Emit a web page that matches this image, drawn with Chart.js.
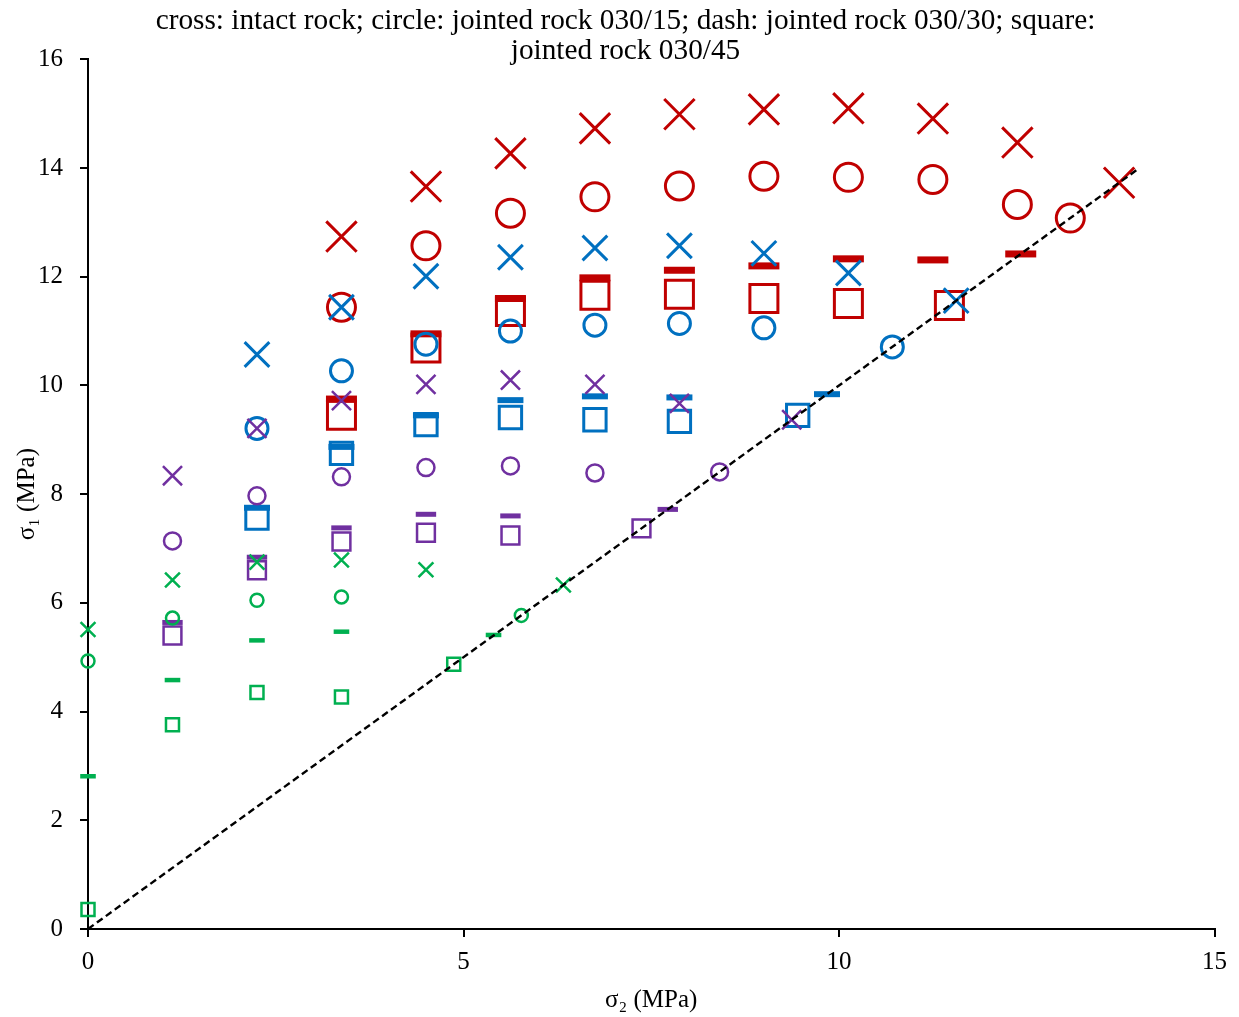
<!DOCTYPE html>
<html>
<head>
<meta charset="utf-8">
<script src="https://cdn.jsdelivr.net/npm/chart.js@4/dist/chart.umd.min.js"></script>
<style>
  html, body { margin: 0; padding: 0; background: #fff; }
  #wrap { width: 1239px; height: 1017px; position: relative; }
</style>
</head>
<body>
<div id="wrap"><canvas id="c"></canvas></div>
<script>
// ---- Data (sigma2, sigma1 in MPa) ----
const titleLines = ['cross: intact rock; circle: jointed rock 030/15; dash: jointed rock 030/30; square:', 'jointed rock 030/45'];
const xTitle = 'σ₂ (MPa)';
const yTitle = 'σ₁ (MPa)';

// Green group
const greenCrossX  = [0, 1.125, 2.25, 3.375, 4.5, 6.33];
const greenCrossY  = [5.51, 6.42, 6.75, 6.79, 6.61, 6.33];
const greenCircleX = [0, 1.125, 2.25, 3.375, 5.77];
const greenCircleY = [4.93, 5.72, 6.05, 6.11, 5.77];
const greenDashX   = [0, 1.125, 2.25, 3.375, 5.40];
const greenDashY   = [2.81, 4.58, 5.31, 5.47, 5.41];
const greenSquareX = [0, 1.125, 2.25, 3.375, 4.87];
const greenSquareY = [0.36, 3.76, 4.35, 4.27, 4.87];

// Purple group
const purpleCrossX  = [1.125, 2.25, 3.375, 4.5, 5.625, 6.75, 7.875, 9.37];
const purpleCrossY  = [8.34, 9.21, 9.72, 10.02, 10.10, 10.02, 9.67, 9.37];
const purpleCircleX = [1.125, 2.25, 3.375, 4.5, 5.625, 6.75, 8.41];
const purpleCircleY = [7.14, 7.97, 8.32, 8.49, 8.52, 8.39, 8.41];
const purpleDashX   = [1.125, 2.25, 3.375, 4.5, 5.625, 7.72];
const purpleDashY   = [5.64, 6.84, 7.38, 7.63, 7.60, 7.72];
const purpleSquareX = [1.125, 2.25, 3.375, 4.5, 5.625, 7.37];
const purpleSquareY = [5.40, 6.60, 7.13, 7.29, 7.24, 7.37];

// Blue group
const blueCrossX  = [2.25, 3.375, 4.5, 5.625, 6.75, 7.875, 9, 10.125, 11.56];
const blueCrossY  = [10.57, 11.44, 12.01, 12.36, 12.53, 12.57, 12.43, 12.07, 11.56];
const blueCircleX = [2.25, 3.375, 4.5, 5.625, 6.75, 7.875, 9, 10.71];
const blueCircleY = [9.21, 10.27, 10.76, 11.00, 11.11, 11.14, 11.06, 10.71];
const blueDashX   = [2.25, 3.375, 4.5, 5.625, 6.75, 7.875, 9.84];
const blueDashY   = [7.75, 8.87, 9.45, 9.73, 9.80, 9.78, 9.84];
const blueSquareX = [2.25, 3.375, 4.5, 5.625, 6.75, 7.875, 9.45];
const blueSquareY = [7.56, 8.75, 9.28, 9.41, 9.37, 9.34, 9.45];

// Red group
const redCrossX  = [3.375, 4.5, 5.625, 6.75, 7.875, 9, 10.125, 11.25, 12.375, 13.73];
const redCrossY  = [12.74, 13.66, 14.27, 14.73, 14.99, 15.08, 15.10, 14.91, 14.47, 13.73];
const redCircleX = [3.375, 4.5, 5.625, 6.75, 7.875, 9, 10.125, 11.25, 12.375, 13.08];
const redCircleY = [11.44, 12.57, 13.17, 13.47, 13.67, 13.85, 13.83, 13.79, 13.33, 13.08];
const redDashX   = [3.375, 4.5, 5.625, 6.75, 7.875, 9, 10.125, 11.25, 12.42];
const redDashY   = [9.75, 10.95, 11.60, 11.98, 12.12, 12.20, 12.33, 12.31, 12.42];
const redSquareX = [3.375, 4.5, 5.625, 6.75, 7.875, 9, 10.125, 11.47];
const redSquareY = [9.45, 10.69, 11.36, 11.66, 11.68, 11.60, 11.51, 11.47];

// 1:1 reference line
const refLineX = [0, 14];
const refLineY = [0, 14];

const xTicks = [0, 5, 10, 15];
const yTicks = [0, 2, 4, 6, 8, 10, 12, 14, 16];

// ---- Styles ----
const groups = [
  { name: 'green',  color: '#00B050', order: 1, bw: 2.5, r: { cross: 10.5, circle: 6.5, dash: 7.8, square: 9.2 }, dashW: 4.5,
    data: { cross: [greenCrossX, greenCrossY], circle: [greenCircleX, greenCircleY], dash: [greenDashX, greenDashY], square: [greenSquareX, greenSquareY] } },
  { name: 'purple', color: '#7030A0', order: 2, bw: 2.5, r: { cross: 13.5, circle: 8.5, dash: 10.2, square: 12.6 }, dashW: 5,
    data: { cross: [purpleCrossX, purpleCrossY], circle: [purpleCircleX, purpleCircleY], dash: [purpleDashX, purpleDashY], square: [purpleSquareX, purpleSquareY] } },
  { name: 'blue',   color: '#0070C0', order: 3, bw: 3, r: { cross: 17.5, circle: 11, dash: 13, square: 15.8 }, dashW: 6,
    data: { cross: [blueCrossX, blueCrossY], circle: [blueCircleX, blueCircleY], dash: [blueDashX, blueDashY], square: [blueSquareX, blueSquareY] } },
  { name: 'red',    color: '#C00000', order: 4, bw: 3, r: { cross: 21.5, circle: 14, dash: 15.5, square: 19.8 }, dashW: 7,
    data: { cross: [redCrossX, redCrossY], circle: [redCircleX, redCircleY], dash: [redDashX, redDashY], square: [redSquareX, redSquareY] } }
];
const shapeStyle = { cross: 'crossRot', circle: 'circle', dash: 'line', square: 'rect' };

function pts(xs, ys) { return xs.map((x, i) => ({ x: x, y: ys[i] })); }

const datasets = [];
datasets.push({
  type: 'line',
  label: '1:1',
  data: pts(refLineX, refLineY),
  borderColor: '#000',
  borderWidth: 2.4,
  borderDash: [7, 4],
  pointRadius: 0,
  showLine: true,
  fill: false,
  order: 0,
  clip: false
});
groups.forEach(g => {
  ['cross', 'circle', 'dash', 'square'].forEach(s => {
    datasets.push({
      label: g.name + ' ' + s,
      data: pts(g.data[s][0], g.data[s][1]),
      pointStyle: shapeStyle[s],
      pointRadius: g.r[s],
      pointHoverRadius: g.r[s],
      pointBorderWidth: s === 'dash' ? g.dashW : g.bw,
      pointHoverBorderWidth: s === 'dash' ? g.dashW : g.bw,
      borderColor: g.color,
      backgroundColor: 'rgba(0,0,0,0)',
      showLine: false,
      order: g.order,
      clip: false
    });
  });
});

const serif = "'Liberation Serif', 'Times New Roman', serif";

new Chart(document.getElementById('c'), {
  type: 'scatter',
  data: { datasets: datasets },
  options: {
    responsive: true,
    maintainAspectRatio: false,
    animation: false,
    events: [],
    layout: { padding: { left: 12, right: 0, top: 0, bottom: 0 } },
    plugins: {
      legend: { display: false },
      tooltip: { enabled: false },
      title: {
        display: true,
        text: titleLines,
        color: '#000',
        font: { family: serif, size: 29.3, weight: 'normal', lineHeight: 1.03 },
        padding: { top: 6, bottom: -7 }
      }
    },
    scales: {
      x: {
        type: 'linear',
        min: 0, max: 15,
        afterFit: s => { s.height = 88; },
        afterBuildTicks: s => { s.ticks = xTicks.map(v => ({ value: v })); },
        ticks: { color: '#000', font: { family: serif, size: 25 }, padding: 10, maxRotation: 0 },
        grid: { display: true, drawOnChartArea: false, drawTicks: true, tickLength: 8, color: '#000', lineWidth: 2 },
        border: { display: true, color: '#000', width: 2 },
        title: { display: true, text: xTitle, color: '#000', font: { family: serif, size: 25 }, padding: { top: 0, bottom: 2 } }
      },
      y: {
        type: 'linear',
        min: 0, max: 16,
        afterFit: s => { s.width = 76; },
        afterBuildTicks: s => { s.ticks = yTicks.map(v => ({ value: v })); },
        ticks: { color: '#000', font: { family: serif, size: 25 }, padding: 17 },
        grid: { display: true, drawOnChartArea: false, drawTicks: true, tickLength: 8, color: '#000', lineWidth: 2 },
        border: { display: true, color: '#000', width: 2 },
        title: { display: true, text: yTitle, color: '#000', font: { family: serif, size: 25 }, padding: { top: 0, bottom: 0 } }
      },
      yRightSpace: {
        type: 'linear',
        position: 'right',
        display: true,
        min: 0, max: 16,
        afterFit: s => { s.width = 24; },
        ticks: { display: false },
        grid: { display: false, drawTicks: false },
        border: { display: false },
        title: { display: false }
      }
    }
  }
});
</script>
</body>
</html>
